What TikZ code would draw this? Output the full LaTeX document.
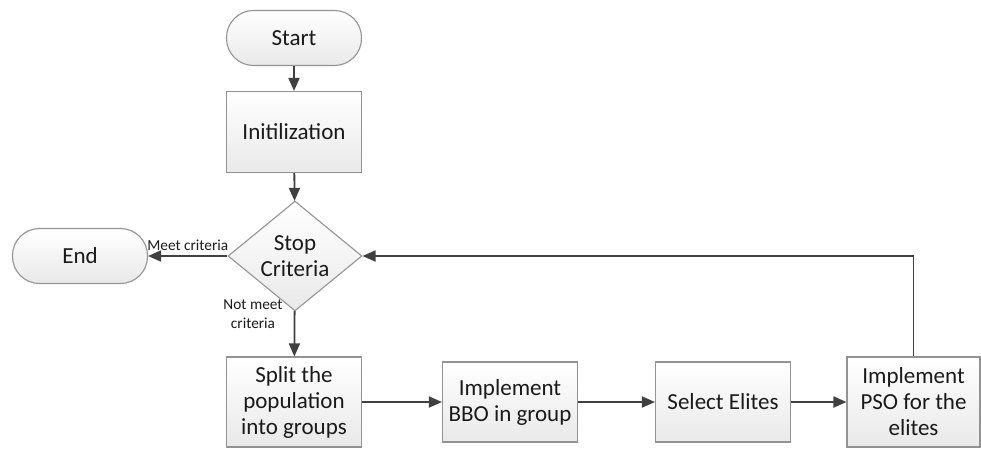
\documentclass[tikz,border=0pt]{standalone}
\usepackage{fontspec}
\setmainfont{Carlito}
\usetikzlibrary{shapes.geometric,arrows.meta}
\definecolor{boxline}{HTML}{939393}
\definecolor{boxbot}{HTML}{E9E9E9}
\definecolor{arrc}{HTML}{404040}
\definecolor{txt}{HTML}{1A1A1A}
\begin{document}
\begin{tikzpicture}[x=1pt,y=-1pt,
  box/.style={draw=boxline, line width=1.1pt, top color=white, bottom color=boxbot,
    minimum width=135pt, text=txt, font=\fontsize{23}{26}\selectfont, align=center, inner sep=2pt},
  term/.style={box, rounded corners=27pt, minimum height=55pt},
  proc/.style={box, minimum height=81pt},
  dec/.style={box, diamond, minimum width=134pt, minimum height=86pt, inner sep=0pt},
  arr/.style={draw=arrc, line width=1.8pt, -{Triangle[length=13pt,width=11pt]}},
  lab/.style={font=\fontsize{15.3}{19}\selectfont, text=txt, align=center}]
\useasboundingbox (0,0) rectangle (981,448);
\node[term] (start) at (294,38) {Start};
\node[proc] (init) at (294,132) {Initilization};
\node[dec] (stop) at (295,256) {Stop\\Criteria};
\node[term] (end) at (80,256) {End};
\node[proc, minimum height=90pt] (split) at (294,402) {Split the\\population\\into groups};
\node[proc, minimum height=80pt] (bbo) at (510,402) {Implement\\BBO in group};
\node[proc, minimum height=80pt] (sel) at (723,402) {Select Elites};
\node[proc, minimum height=90pt, minimum width=133pt] (pso) at (913.5,402) {Implement\\PSO for the\\elites};
\node[lab] (nm) at (253,314) {Not meet\\criteria};
\draw[arr] (start) -- (init);
\draw[arr] (init) -- (stop);
\draw[arr] (stop) -- node[lab, above=1pt] {Meet criteria} (end);
\draw[arr] (stop) -- (split);
\draw[arr] (split) -- (bbo);
\draw[arr] (bbo) -- (sel);
\draw[arr] (sel) -- (pso);
\draw[arr] (pso.north) |- (stop.east);
\end{tikzpicture}
\end{document}
